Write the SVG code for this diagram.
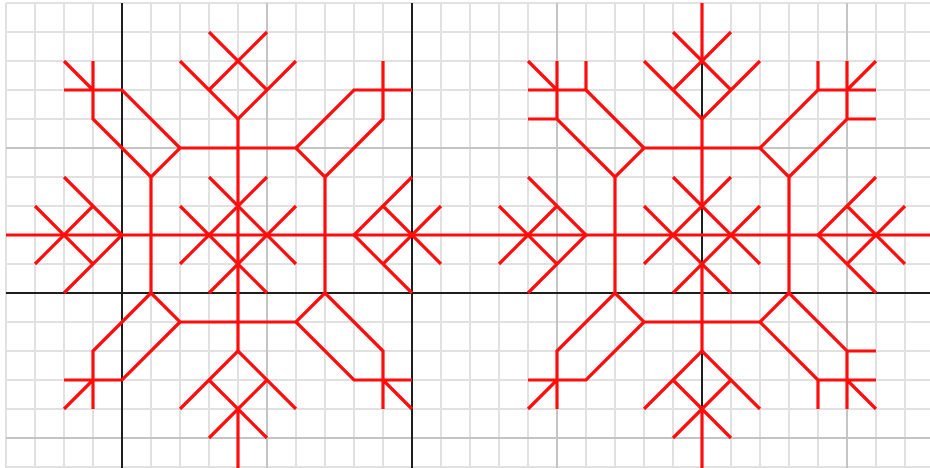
<svg xmlns="http://www.w3.org/2000/svg" width="930" height="468" viewBox="0 0 930 468">
<style>
.minor{stroke:#e1e1e1;stroke-width:2;fill:none}
.major{stroke:#c4c4c4;stroke-width:2;fill:none}
.axis{stroke:#1e1e1e;stroke-width:2;fill:none}
.flake path{stroke:#ff0d0d;stroke-width:0.11;fill:none;stroke-linecap:butt;stroke-linejoin:miter}
</style>
<rect width="930" height="468" fill="#ffffff"/>
<g id="grid">
<path class="minor" d="M6 3V468M35 3V468M64 3V468M93 3V468M151 3V468M180 3V468M209 3V468M238 3V468M296 3V468M325 3V468M354 3V468M383 3V468M441 3V468M470 3V468M499 3V468M528 3V468M586 3V468M615 3V468M644 3V468M673 3V468M731 3V468M760 3V468M789 3V468M818 3V468M876 3V468M905 3V468M6 3H930M6 32H930M6 61H930M6 90H930M6 119H930M6 177H930M6 206H930M6 235H930M6 264H930M6 322H930M6 351H930M6 380H930M6 409H930M6 467H930"/>
<path class="major" d="M267 3V468M557 3V468M847 3V468M6 148H930M6 438H930"/>
<path class="axis" d="M122 3V468M412 3V468M702 3V468M6 293H930"/>
</g>
<g id="snowflake-left" class="flake" transform="translate(6 3) scale(29)">
<path d="M0 8H16"/>
<path d="M8 4V12M8 14V16.2"/>
<path d="M6 5H10L11 6V10L10 11H6L5 10V6Z"/>
<path d="M6 7L9 10M6 9L9 6M7 6L10 9M7 10L10 7"/>
<path d="M2 6L4 8L2 10M1 7L3 9M1 9L3 7"/>
<path d="M14 6L12 8L14 10M13 7L15 9M13 9L15 7"/>
<path d="M6 2L8 4L10 2M7 1L9 3M9 1L7 3"/>
<path d="M6 14L8 12L10 14M7 13L9 15M9 13L7 15"/>
<path d="M6 5L4 3H2M5 6L3 4V2M2 2L3 3"/>
<path d="M10 5L12 3H14M11 6L13 4V2"/>
<path d="M5 10L3 12V14M6 11L4 13H2M3 13L2 14"/>
<path d="M10 11L12 13H14M11 10L13 12V14M13 13L14 14"/>
</g>
<g id="snowflake-right" class="flake" transform="translate(6 3) scale(29)">
<path d="M16 8H32"/>
<path d="M24 0V2M24 4V7M24 9V12M24 14V16.2"/>
<path d="M22 5H26L27 6V10L26 11H22L21 10V6Z"/>
<path d="M22 7L25 10M22 9L25 6M23 6L26 9M23 10L26 7"/>
<path d="M18 6L20 8L18 10M17 7L19 9M17 9L19 7"/>
<path d="M30 6L28 8L30 10M29 7L31 9M29 9L31 7"/>
<path d="M22 2L24 4L26 2M23 1L25 3M25 1L23 3"/>
<path d="M22 14L24 12L26 14M23 13L25 15M25 13L23 15"/>
<path d="M22 5L20 3V2M20 3H18M21 6L19 4H18M19 4V2M19 3L18 2"/>
<path d="M26 5L28 3V2M28 3H30M27 6L29 4H30M29 4V2M29 3L30 2"/>
<path d="M21 10L19 12V14M22 11L20 13H18M19 13L18 14"/>
<path d="M26 11L28 13V14M28 13H30M27 10L29 12H30M29 12V14M29 13L30 14"/>
</g>
</svg>
